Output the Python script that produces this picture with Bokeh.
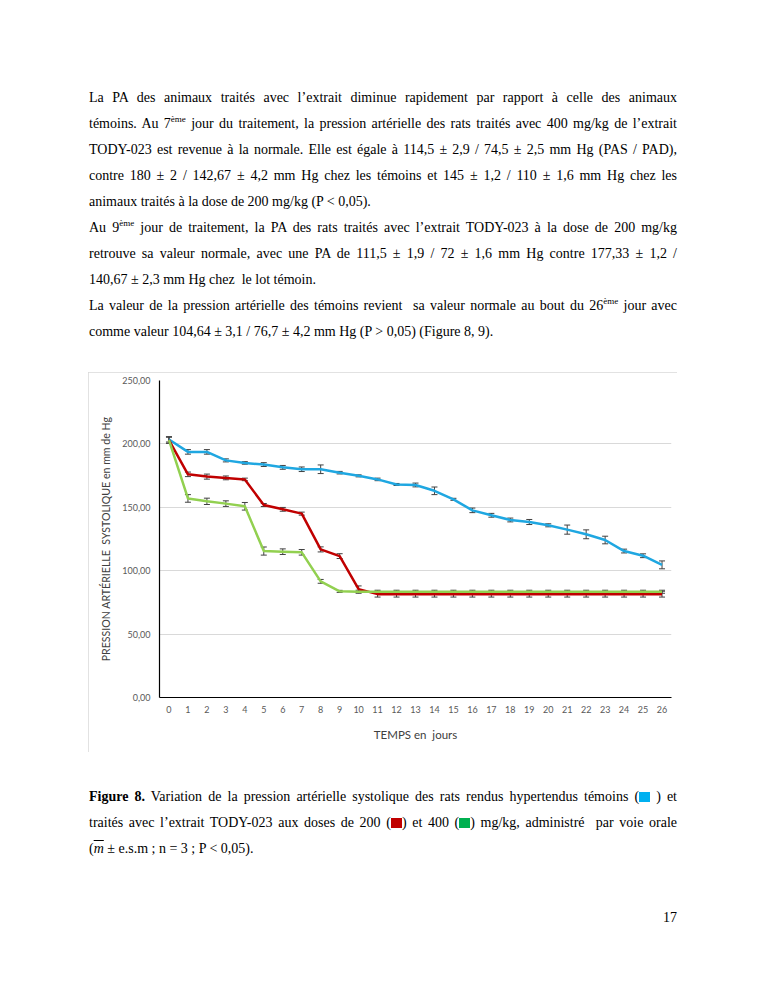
from bokeh.plotting import figure
from bokeh.models import Range1d, FixedTicker, Whisker, TeeHead, ColumnDataSource, Div, Spacer
from bokeh.layouts import column, row
from bokeh.embed import file_html
from bokeh.resources import INLINE

# ---------------- data ----------------
days = list(range(27))
day_labels = [str(d) for d in days]

temoins = [203.5, 193.7, 193.7, 187.0, 185.0, 183.7, 181.5, 180.0, 180.0, 177.3,
           174.8, 172.0, 168.0, 167.6, 163.0, 156.3, 147.6, 143.7, 140.0, 138.4,
           135.8, 132.4, 128.7, 124.2, 115.5, 111.8, 104.6]
temoins_err = [2.0, 1.8, 1.8, 1.2, 1.0, 1.5, 1.5, 1.8, 3.4, 1.0,
               0.8, 1.0, 0.8, 1.5, 3.0, 0.8, 1.8, 1.5, 1.5, 2.0,
               1.2, 3.6, 3.5, 3.0, 1.5, 1.5, 3.1]

dose200 = [203.0, 176.0, 174.2, 173.2, 172.0, 151.8, 148.4, 145.0, 116.8, 111.5,
           85.5, 81.5, 81.5, 81.5, 81.5, 81.5, 81.5, 81.5, 81.5, 81.5,
           81.5, 81.5, 81.5, 81.5, 81.5, 81.5, 81.5]
dose200_err = [2.5, 1.8, 2.0, 1.5, 1.0, 1.2, 1.5, 1.2, 2.0, 1.9,
               2.5, 2.3, 2.3, 2.3, 2.3, 2.3, 2.3, 2.3, 2.3, 2.3,
               2.3, 2.3, 2.3, 2.3, 2.3, 2.3, 2.3]

dose400 = [203.0, 157.0, 154.7, 152.9, 150.8, 115.5, 115.0, 114.5, 91.6, 83.7,
           83.4, 83.4, 83.4, 83.4, 83.4, 83.4, 83.4, 83.4, 83.4, 83.4,
           83.4, 83.4, 83.4, 83.4, 83.4, 83.4, 83.4]
dose400_err = [2.5, 3.0, 2.5, 2.2, 3.0, 3.2, 2.2, 2.2, 1.5, 0.8,
               1.2, 1.2, 1.2, 1.2, 1.2, 1.2, 1.2, 1.2, 1.2, 1.2,
               1.2, 1.2, 1.2, 1.2, 1.2, 1.2, 1.2]

y_ticks = [0, 50, 100, 150, 200, 250]
y_tick_labels = ["0,00", "50,00", "100,00", "150,00", "200,00", "250,00"]

series_names = ["témoins", "200 mg/kg", "400 mg/kg"]
series_colors = ["#1FA7E1", "#C00000", "#92D050"]
legend_colors = ["#00B0F0", "#C00000", "#00B050"]

# ---------------- chart ----------------
TICK_FONT = "Lato"
p = figure(width=589, height=380, output_backend="svg", toolbar_location=None,
           x_range=Range1d(-0.5, 26.5), y_range=Range1d(0, 250),
           min_border_left=71, min_border_right=6, min_border_top=8, min_border_bottom=55)
p.styles = {"outline": "1px solid #D9D9D9", "outline-offset": "-1px"}
p.outline_line_color = None
p.background_fill_color = "white"
p.border_fill_color = "white"

p.xgrid.grid_line_color = None
p.ygrid.grid_line_color = "#D9D9D9"
p.ygrid.grid_line_width = 1
p.ygrid.ticker = FixedTicker(ticks=y_ticks)

p.yaxis.ticker = FixedTicker(ticks=y_ticks)
p.yaxis.major_label_overrides = {t: l for t, l in zip(y_ticks, y_tick_labels)}
p.xaxis.ticker = FixedTicker(ticks=days)
p.xaxis.major_label_overrides = {d: l for d, l in zip(days, day_labels)}

for ax in (p.xaxis[0], p.yaxis[0]):
    ax.axis_line_color = "black"
    ax.axis_line_width = 1.2
    ax.major_tick_line_color = None
    ax.minor_tick_line_color = None
    ax.major_tick_out = 0
    ax.major_tick_in = 0
    ax.minor_tick_out = 0
    ax.minor_tick_in = 0
    ax.major_label_text_font = TICK_FONT
    ax.major_label_text_font_size = "9px"
    ax.major_label_text_color = "#595959"
    ax.axis_label_text_font = TICK_FONT
    ax.axis_label_text_font_style = "normal"
    ax.axis_label_text_color = "#404040"

p.xaxis.axis_label = "TEMPS en\u00a0 jours"
p.xaxis.axis_label_text_font_size = "11.5px"
p.xaxis.major_label_standoff = 8
p.xaxis.axis_label_standoff = 12
p.yaxis.axis_label = "PRESSION ARTÉRIELLE\u00a0 SYSTOLIQUE en mm de Hg"
p.yaxis.axis_label_text_font_size = "10.6px"
p.yaxis.major_label_standoff = 9
p.yaxis.axis_label_standoff = 7

for vals, errs, col in zip([temoins, dose200, dose400],
                           [temoins_err, dose200_err, dose400_err],
                           series_colors):
    src = ColumnDataSource(dict(
        x=days, y=vals,
        upper=[v + e for v, e in zip(vals, errs)],
        lower=[v - e for v, e in zip(vals, errs)]))
    p.line("x", "y", source=src, line_color=col, line_width=2.5, line_join="round")
    w = Whisker(source=src, base="x", upper="upper", lower="lower",
                line_color="#404040", line_width=1,
                upper_head=TeeHead(size=6, line_color="#404040", line_width=1),
                lower_head=TeeHead(size=6, line_color="#404040", line_width=1))
    p.add_layout(w)

# ---------------- text ----------------
SERIF = "'Liberation Serif', 'Times New Roman', serif"
SUP = '<span style="font-size:9px;vertical-align:6px;line-height:0">ème</span>'
FS = "14px"


def jl(s):
    return f'<div style="text-align:justify;text-align-last:justify;">{s}</div>'


def ll(s):
    return f'<div style="text-align:left;">{s}</div>'


body_lines = [
    jl("La PA des animaux traités avec l’extrait diminue rapidement par rapport à celle des animaux"),
    jl(f"témoins. Au 7{SUP} jour du traitement, la pression artérielle des rats traités avec 400 mg/kg de l’extrait"),
    jl("TODY-023 est revenue à la normale. Elle est égale à 114,5 ± 2,9 / 74,5 ± 2,5 mm Hg (PAS / PAD),"),
    jl("contre 180 ± 2 / 142,67 ± 4,2 mm Hg chez les témoins et 145 ± 1,2 / 110 ± 1,6 mm Hg chez les"),
    ll("animaux traités à la dose de 200 mg/kg (P &lt; 0,05)."),
    jl(f"Au 9{SUP} jour de traitement, la PA des rats traités avec l’extrait TODY-023 à la dose de 200 mg/kg"),
    jl("retrouve sa valeur normale, avec une PA de 111,5 ± 1,9 / 72 ± 1,6 mm Hg contre 177,33 ± 1,2 /"),
    ll("140,67 ± 2,3 mm Hg chez&nbsp; le lot témoin."),
    jl(f"La valeur de la pression artérielle des témoins revient&nbsp; sa valeur normale au bout du 26{SUP} jour avec"),
    ll("comme valeur 104,64 ± 3,1 / 76,7 ± 4,2 mm Hg (P &gt; 0,05) (Figure 8, 9)."),
]

wrap = (f'<div style="margin-left:89px;padding-top:85px;width:588px;font-family:{SERIF};'
        f'font-size:{FS};line-height:26px;color:#000;">')
top_div = Div(text=wrap + "".join(body_lines) + "</div>", width=765, height=372, margin=0)


def sq(c):
    return (f'<span style="display:inline-block;width:11px;height:10px;background:{c};'
            f'vertical-align:-1px;"></span>')


cap_lines = [
    jl(f"<b>Figure 8.</b> Variation de la pression artérielle systolique des rats rendus hypertendus témoins ({sq(legend_colors[0])}&nbsp;) et"),
    jl(f"traités avec l’extrait TODY-023 aux doses de 200 ({sq(legend_colors[1])}) et 400 ({sq(legend_colors[2])}) mg/kg, administré&nbsp; par voie orale"),
    ll('(<span style="font-style:italic;text-decoration:overline;">m</span> ± e.s.m ; n = 3 ; P &lt; 0,05).'),
]
cap_html = (f'<div style="margin-left:89px;padding-top:32px;width:588px;font-family:{SERIF};'
            f'font-size:{FS};line-height:26px;color:#000;">' + "".join(cap_lines) +
            '<div style="margin-top:43px;text-align:right;">17</div></div>')
cap_div = Div(text=cap_html, width=765, height=230, margin=0)

layout = column(top_div, row(Spacer(width=88, height=380), p), cap_div)

open("out.html", "w").write(file_html(layout, INLINE))
